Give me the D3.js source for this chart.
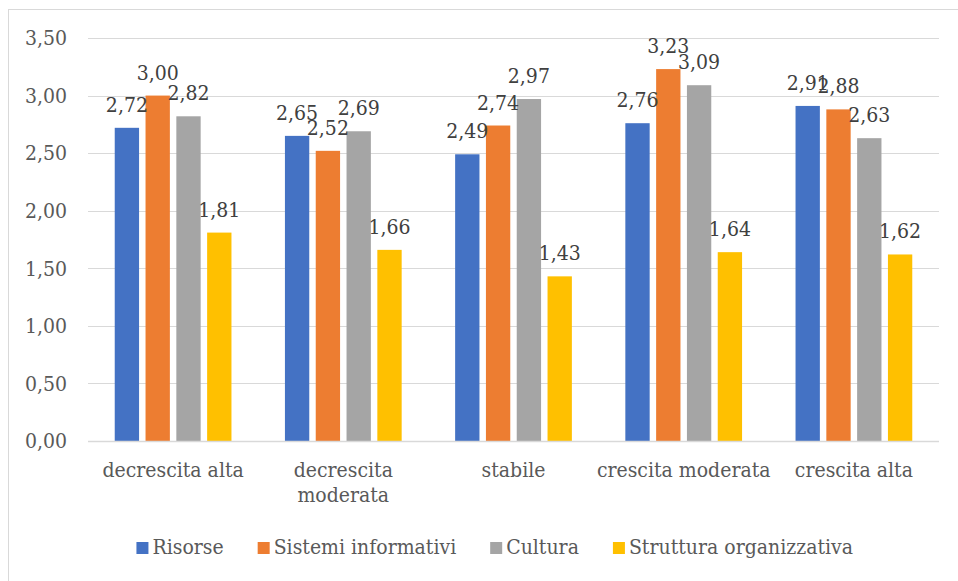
<!DOCTYPE html>
<html>
<head>
<meta charset="utf-8">
<script src="https://cdn.jsdelivr.net/npm/d3@7"></script>
<style>
  html, body { margin: 0; padding: 0; background: #fff; }
  svg { display: block; }
  svg text { font-stretch: condensed; }
</style>
</head>
<body>
<svg id="chart" width="958" height="581"></svg>
<script>
// Growth classes on the x axis
const categories = [
  ["decrescita alta"],
  ["decrescita", "moderata"],
  ["stabile"],
  ["crescita moderata"],
  ["crescita alta"]
];
const seriesNames = ["Risorse", "Sistemi informativi", "Cultura", "Struttura organizzativa"];
const seriesColors = ["#4472c4", "#ed7d31", "#a5a5a5", "#ffc000"];

// Mean score per series, one value per category
const risorse = [2.72, 2.65, 2.49, 2.76, 2.91];
const sistemiInformativi = [3.00, 2.52, 2.74, 3.23, 2.88];
const cultura = [2.82, 2.69, 2.97, 3.09, 2.63];
const strutturaOrganizzativa = [1.81, 1.66, 1.43, 1.64, 1.62];

const yTicks = [0, 0.5, 1, 1.5, 2, 2.5, 3, 3.5];

const seriesValues = [risorse, sistemiInformativi, cultura, strutturaOrganizzativa];
const fmt = v => v.toFixed(2).replace(".", ",");
const SERIF = "DejaVu Serif Condensed, DejaVu Serif, serif";

const svg = d3.select("#chart");
const plot = { left: 88, right: 939, top: 38, bottom: 441 };

// outer chart frame
svg.append("rect")
  .attr("x", 8.5).attr("y", 9.5)
  .attr("width", 1200).attr("height", 1200)
  .attr("fill", "none").attr("stroke", "#d9d9d9").attr("stroke-width", 1);

const catKeys = categories.map(c => c.join(" "));
const x0 = d3.scaleBand().domain(catKeys).range([plot.left, plot.right]).padding(0);
const x1 = d3.scaleBand().domain(d3.range(seriesNames.length))
  .range([0, x0.bandwidth()]).paddingInner(0.21).paddingOuter(0.868);
const y = d3.scaleLinear().domain([0, 3.5]).range([plot.bottom, plot.top]);

// horizontal gridlines
svg.append("g").selectAll("line")
  .data(yTicks.filter(t => t > 0))
  .join("line")
  .attr("x1", plot.left).attr("x2", plot.right)
  .attr("y1", d => Math.round(y(d)) + 0.5).attr("y2", d => Math.round(y(d)) + 0.5)
  .attr("stroke", "#d9d9d9").attr("stroke-width", 1);

// y axis labels
const yAxis = d3.axisLeft(y).tickValues(yTicks).tickFormat(fmt).tickSize(0).tickPadding(21);
const gy = svg.append("g").attr("transform", `translate(${plot.left},0)`).call(yAxis);
gy.attr("font-family", SERIF).attr("font-size", 21);
gy.select(".domain").remove();
gy.selectAll("text").attr("fill", "#595959").attr("dy", "0.32em");

// bars
const groups = svg.append("g").selectAll("g")
  .data(catKeys)
  .join("g")
  .attr("transform", d => `translate(${x0(d)},0)`);

groups.selectAll("rect")
  .data((d, i) => seriesValues.map((vals, s) => ({ s, v: vals[i] })))
  .join("rect")
  .attr("x", d => x1(d.s))
  .attr("width", x1.bandwidth())
  .attr("y", d => y(d.v))
  .attr("height", d => y(0) - y(d.v))
  .attr("fill", d => seriesColors[d.s]);

// data labels
groups.selectAll("text")
  .data((d, i) => seriesValues.map((vals, s) => ({ s, v: vals[i] })))
  .join("text")
  .attr("x", d => x1(d.s) + x1.bandwidth() / 2)
  .attr("y", d => y(d.v) - 16)
  .attr("text-anchor", "middle")
  .attr("font-family", SERIF)
  .attr("font-size", 21)
  .attr("fill", "#404040")
  .text(d => fmt(d.v));

// x axis baseline
svg.append("line")
  .attr("x1", plot.left).attr("x2", plot.right)
  .attr("y1", plot.bottom + 0.5).attr("y2", plot.bottom + 0.5)
  .attr("stroke", "#d9d9d9").attr("stroke-width", 1.5);

// category labels
const xl = svg.append("g").selectAll("text")
  .data(categories)
  .join("text")
  .attr("x", (d, i) => x0(catKeys[i]) + x0.bandwidth() / 2)
  .attr("y", 477)
  .attr("text-anchor", "middle")
  .attr("font-family", SERIF)
  .attr("font-size", 21)
  .attr("fill", "#595959");
xl.selectAll("tspan")
  .data(d => d)
  .join("tspan")
  .attr("x", function () { return this.parentNode.getAttribute("x"); })
  .attr("dy", (d, i) => i === 0 ? 0 : 25)
  .text(d => d);

// legend
const legend = svg.append("g");
const items = legend.selectAll("g").data(seriesNames).join("g");
items.append("rect")
  .attr("width", 12).attr("height", 12)
  .attr("y", 542)
  .attr("fill", (d, i) => seriesColors[i]);
items.append("text")
  .attr("y", 554)
  .attr("font-family", SERIF)
  .attr("font-size", 21)
  .attr("fill", "#595959")
  .text(d => d);
let cx = 0;
const pos = [];
items.each(function () {
  const w = d3.select(this).select("text").node().getComputedTextLength();
  pos.push(cx);
  cx += 12 + 4 + w + 34;
});
const total = cx - 34;
const start = 853 - total;
items.each(function (d, i) {
  const g = d3.select(this);
  g.select("rect").attr("x", start + pos[i]);
  g.select("text").attr("x", start + pos[i] + 16);
});
</script>
</body>
</html>
